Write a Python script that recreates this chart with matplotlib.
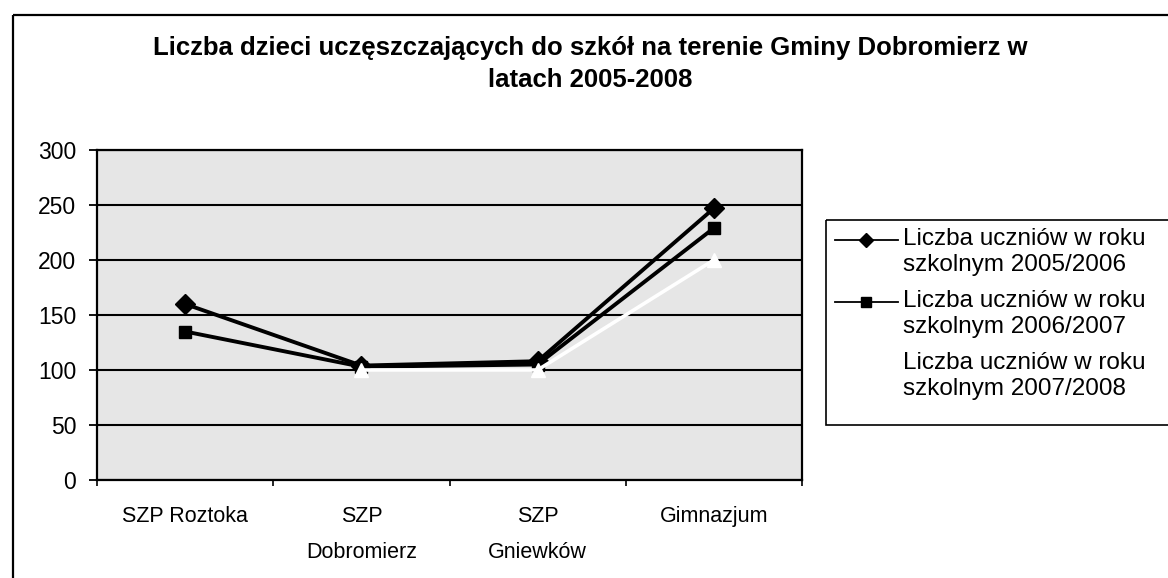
import numpy as np
import matplotlib
matplotlib.use("Agg")
import matplotlib.pyplot as plt
from matplotlib.patches import Rectangle
from matplotlib.lines import Line2D

# ---- data ----
categories = ["SZP Roztoka", "SZP\nDobromierz", "SZP\nGniewków", "Gimnazjum"]
series_names = ["Liczba uczniów w roku\nszkolnym 2005/2006",
                "Liczba uczniów w roku\nszkolnym 2006/2007",
                "Liczba uczniów w roku\nszkolnym 2007/2008"]
s2005_2006 = [160, 104, 108, 247]
s2006_2007 = [135, 103, 105, 229]
s2007_2008 = [np.nan, 100, 100, 200]
y_ticks = [0, 50, 100, 150, 200, 250, 300]
title_lines = ["Liczba dzieci uczęszczających do szkół na terenie Gminy Dobromierz w",
               "latach 2005-2008"]

plt.rcParams['font.family'] = ['Liberation Sans', 'DejaVu Sans']

W, H = 1168, 578
fig = plt.figure(figsize=(W / 100, H / 100), dpi=100)
fig.patch.set_facecolor('white')

# overlay in pixel coordinates for chart frame, title, legend
ov = fig.add_axes([0, 0, 1, 1], zorder=0)
ov.set_xlim(0, W)
ov.set_ylim(H, 0)
ov.axis('off')
ov.add_patch(Rectangle((13, 15), W + 20, H + 20, fill=False, lw=1.6, ec='black'))

# plot area
axl, axr, axt, axb = 97, 802, 150, 480
ax = fig.add_axes([axl / W, 1 - axb / H, (axr - axl) / W, (axb - axt) / H], zorder=1)
ax.set_facecolor('#e6e6e6')
x = np.arange(len(categories))

ax.set_xlim(-0.5, len(categories) - 0.5)
ax.set_ylim(0, 300)
ax.set_yticks(y_ticks)
ax.set_yticklabels([str(v) for v in y_ticks], fontsize=16.5)
ax.yaxis.grid(True, color='black', lw=1.5)
ax.set_axisbelow(True)
ax.tick_params(axis='y', length=6, width=1.3, pad=9, direction='out')

ax.set_xticks(x)
ax.set_xticklabels(categories, fontsize=15.5, linespacing=1.9)
ax.tick_params(axis='x', length=0, pad=19)
ax.set_xticks(np.arange(-0.5, len(categories)), minor=True)
ax.tick_params(axis='x', which='minor', length=4, width=1.2, direction='out')
for sp in ax.spines.values():
    sp.set_linewidth(1.6)
    sp.set_color('black')

ax.plot(x, s2005_2006, color='black', lw=2.8, marker='D', markersize=10,
        markerfacecolor='black', markeredgecolor='black', zorder=3)
ax.plot(x, s2006_2007, color='black', lw=2.8, marker='s', markersize=9,
        markerfacecolor='black', markeredgecolor='black', zorder=3)
ax.plot(x, s2007_2008, color='white', lw=2.6, marker='^', markersize=10,
        markerfacecolor='white', markeredgecolor='white', zorder=4)

# title
ov.text(590, 48, title_lines[0], ha='center', va='center', fontsize=18.5, fontweight='bold')
ov.text(590, 80, title_lines[1], ha='center', va='center', fontsize=18.5, fontweight='bold')

# legend (manual, pixel coordinates)
ov.add_patch(Rectangle((826, 220), 400, 205, fill=False, lw=1.2, ec='black'))
leg_y = [240, 302, 364]
styles = [dict(color='black', marker='D', ms=7, mfc='black', mec='black'),
          dict(color='black', marker='s', ms=7, mfc='black', mec='black'),
          dict(color='white', marker='^', ms=7, mfc='white', mec='white')]
for yy, name, st in zip(leg_y, series_names, styles):
    ov.add_line(Line2D([835, 866, 898], [yy, yy, yy], lw=1.3, markevery=[1], **st))
    ov.text(903, yy - 12, name, ha='left', va='top', fontsize=17.5, linespacing=1.25)

fig.savefig('out.png', dpi=100)
